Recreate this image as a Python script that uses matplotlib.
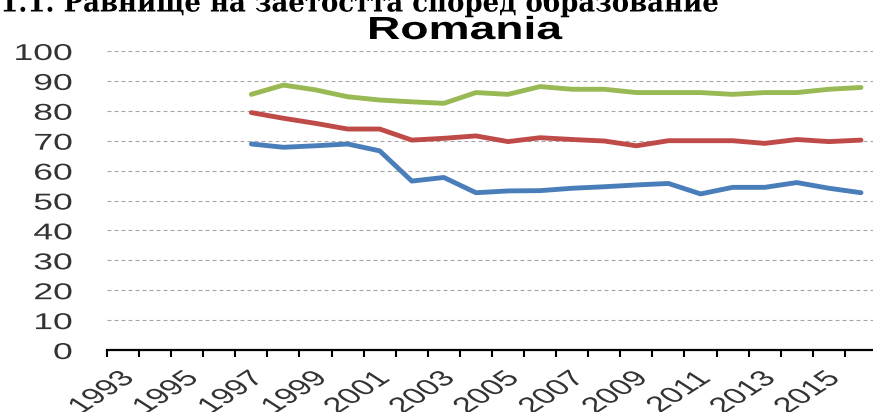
import matplotlib
matplotlib.use("Agg")
import matplotlib.pyplot as plt
from matplotlib.patheffects import AbstractPathEffect
from matplotlib.transforms import Affine2D

# employment rate by education level, Romania (%)
years = list(range(1997, 2017))
low_edu = [68.9, 67.8, 68.3, 68.9, 66.6, 56.5, 57.7, 52.6, 53.2, 53.3,
           54.1, 54.6, 55.2, 55.7, 52.2, 54.4, 54.4, 56.0, 54.1, 52.6]
mid_edu = [79.4, 77.5, 75.8, 73.9, 73.9, 70.2, 70.8, 71.6, 69.7, 71.0,
           70.4, 69.9, 68.3, 70.0, 70.0, 70.0, 69.1, 70.4, 69.7, 70.2]
high_edu = [85.5, 88.6, 87.0, 84.7, 83.6, 83.0, 82.5, 86.1, 85.5, 88.1,
            87.2, 87.2, 86.1, 86.1, 86.1, 85.5, 86.1, 86.1, 87.2, 87.8]

y_ticks = list(range(0, 101, 10))
x_label_years = list(range(1993, 2016, 2))
category_edges = [y - 0.5 for y in range(1993, 2018)]

page_heading = "1.1. Равнище на заетостта според образование"
chart_title = "Romania"

# the source picture is stretched sideways, text included
SX = 1.55


class Stretch(AbstractPathEffect):
    """Widen glyphs horizontally around one side of the drawn text."""

    def __init__(self, sx, side="left"):
        super().__init__()
        self.sx = sx
        self.side = side

    def draw_path(self, renderer, gc, tpath, affine, rgbFace=None):
        ext = affine.transform_path(tpath).get_extents()
        cx = {"left": ext.x0, "center": (ext.x0 + ext.x1) / 2,
              "right": ext.x1}[self.side]
        st = Affine2D().translate(-cx, 0).scale(self.sx, 1).translate(cx, 0)
        renderer.draw_path(gc, tpath, affine + st, rgbFace)


fig = plt.figure(figsize=(8.73, 4.12), dpi=100)
ax = fig.add_axes([107 / 873, 62 / 412, 770 / 873, 299 / 412])

ax.plot(years, low_edu, color="#4A7EBB", lw=3.5, solid_capstyle="round")
ax.plot(years, mid_edu, color="#BE4B48", lw=3.5, solid_capstyle="round")
ax.plot(years, high_edu, color="#98B954", lw=3.5, solid_capstyle="round")

ax.set_xlim(1992.5, 2016.5)
ax.set_ylim(0, 100)
ax.set_yticks(y_ticks)
ax.yaxis.grid(True, color="#a6a6a6", lw=0.8, linestyle=(0, (3.6, 2.7)))
ax.set_axisbelow(True)

for side in ["top", "right", "left"]:
    ax.spines[side].set_visible(False)
ax.spines["bottom"].set_linewidth(1.6)
ax.spines["bottom"].set_color("black")

ax.tick_params(axis="y", length=0, pad=25, labelsize=16.5, labelcolor="#333333")

ax.set_xticks(category_edges)
ax.set_xticklabels([])
ax.set_xticks(x_label_years, minor=True)
ax.set_xticklabels([str(y) for y in x_label_years], minor=True, rotation=45,
                   ha="right", va="top", rotation_mode="anchor")
ax.tick_params(axis="x", which="major", length=5, width=1.5, color="black")
ax.tick_params(axis="x", which="minor", length=0, pad=13, labelsize=16,
               labelcolor="#333333")

for lbl in ax.get_yticklabels():
    lbl.set_fontfamily("Liberation Sans")
    lbl.set_path_effects([Stretch(SX, "right")])
for lbl in ax.get_xticklabels(minor=True):
    lbl.set_fontfamily("Liberation Sans")
    lbl.set_path_effects([Stretch(SX, "right")])

heading = fig.text(0.0, 1 - 11.5 / 412, page_heading, ha="left", va="baseline",
                   fontsize=20, fontweight="bold", family="DejaVu Serif")
title = fig.text(465 / 873, 1 - 39 / 412, chart_title, ha="center",
                 va="baseline", fontsize=23, fontweight="bold",
                 family="Liberation Sans")

# fit the two headings to the widths measured on the source
fig.canvas.draw()
w = heading.get_window_extent().width
heading.set_path_effects([Stretch(718 / w, "left")])
w = title.get_window_extent().width
title.set_path_effects([Stretch(195 / w, "center")])

fig.savefig("out.png", dpi=100)
